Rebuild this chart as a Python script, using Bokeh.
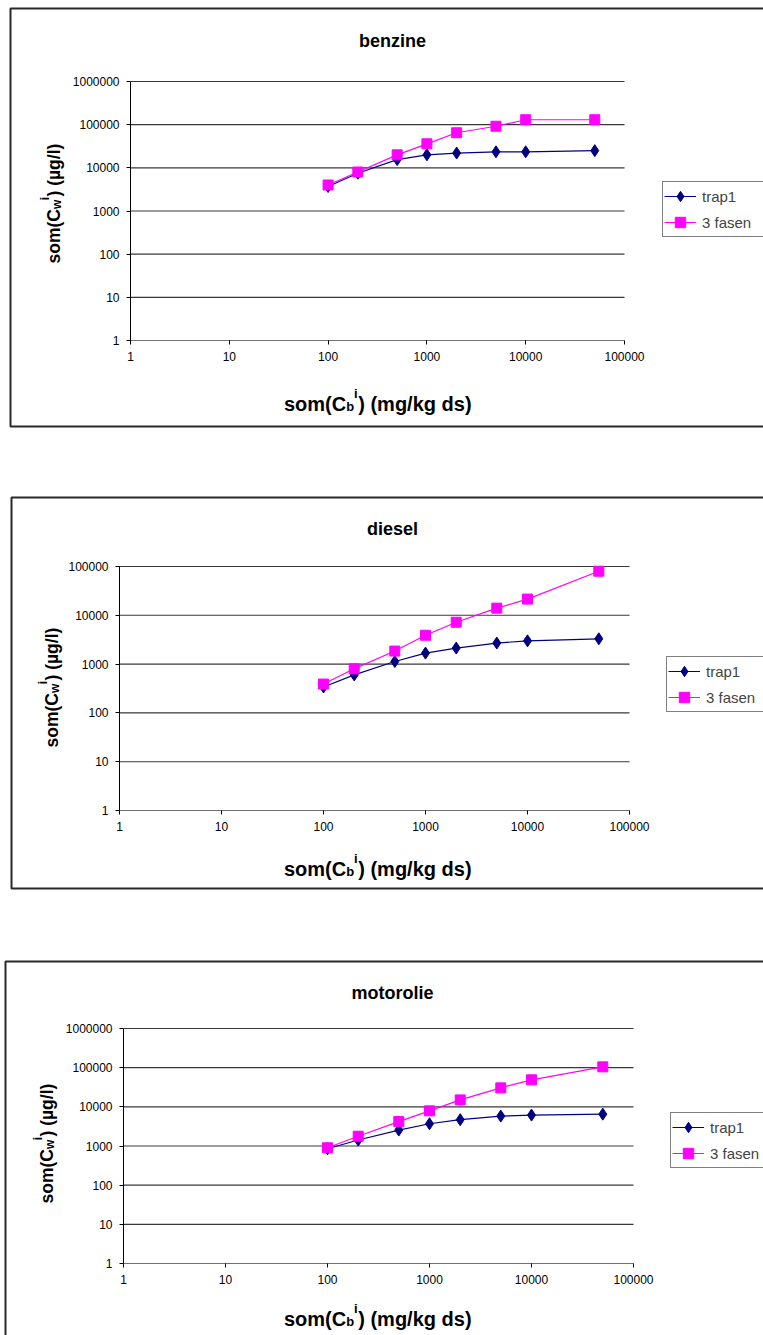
from bokeh.plotting import figure
from bokeh.models import (FixedTicker, NumeralTickFormatter, Label, BoxAnnotation,
                          Legend, LegendItem, Range1d)
from bokeh.layouts import column
from bokeh.embed import file_html
from bokeh.resources import INLINE
import math

# ---------------- data ----------------
x_conc = [100, 200, 500, 1000, 2000, 5000, 10000, 50000]

benzine_trap1 = [3700, 7500, 15500, 20000, 22000, 23500, 23500, 25000]
benzine_3fasen = [4000, 8000, 20000, 36000, 65000, 92000, 130000, 130000]

diesel_trap1 = [340, 600, 1130, 1680, 2130, 2700, 3000, 3300]
diesel_3fasen = [390, 800, 1850, 3900, 7200, 14000, 21500, 80000]

motorolie_trap1 = [850, 1420, 2550, 3700, 4700, 5800, 6150, 6500]
motorolie_3fasen = [900, 1780, 4200, 7900, 15000, 30500, 49000, 105000]

x_ticks = [1, 10, 100, 1000, 10000, 100000]
y_ticks_6 = [1, 10, 100, 1000, 10000, 100000, 1000000]
y_ticks_5 = [1, 10, 100, 1000, 10000, 100000]

series_names = ["trap1", "3 fasen"]
titles = ["benzine", "diesel", "motorolie"]

FONT = "Liberation Sans"
W = 763
NAVY = "#000080"
MAGENTA = "#FF00FF"


def lab(p, H, cx, cy, text, size, bold=True, align="left",
        baseline="alphabetic", angle=0.0):
    p.add_layout(Label(x=cx, y=H - cy, x_units="screen", y_units="screen",
                       text=text, text_font=FONT, text_font_size=f"{size}px",
                       text_font_style="bold" if bold else "normal",
                       text_align=align, text_baseline=baseline, angle=angle,
                       text_color="#000000"))


def log_range(lo, hi, p_lo, p_hi, total):
    # range whose [lo, hi] decades land on pixels p_lo..p_hi of a full-canvas frame
    llo, lhi = math.log10(lo), math.log10(hi)
    per = (p_hi - p_lo) / (lhi - llo)
    start = llo - p_lo / per
    end = lhi + (total - p_hi) / per
    return Range1d(10 ** start, 10 ** end)


def make_chart(title, trap1, fasen, y_ticks, H, frame, border, title_base,
               xt_base, yt_center, yt_base, legend_box):
    fl, fr, ft, fb = frame
    xr = log_range(x_ticks[0], x_ticks[-1], fl, fr, W)
    yr = log_range(y_ticks[0], y_ticks[-1], H - fb, H - ft, H)
    p = figure(width=W, height=H, x_axis_type="log", y_axis_type="log",
               x_range=xr, y_range=yr,
               output_backend="svg", toolbar_location=None,
               min_border_left=0, min_border_right=0,
               min_border_top=0, min_border_bottom=0)
    p.title.visible = False
    p.outline_line_color = None
    p.background_fill_color = "white"
    p.border_fill_color = "white"
    p.xgrid.visible = False
    p.ygrid.visible = False

    for ax, ticks, loc in ((p.xaxis[0], x_ticks, y_ticks[0]),
                           (p.yaxis[0], y_ticks, x_ticks[0])):
        ax.fixed_location = loc
        ax.bounds = (ticks[0], ticks[-1])
        ax.ticker = FixedTicker(ticks=ticks)
        ax.formatter = NumeralTickFormatter(format="0")
        ax.minor_tick_line_color = None
        ax.major_tick_in = 0
        ax.major_tick_out = 4
        ax.major_tick_line_color = "#000000"
        ax.major_label_text_font = FONT
        ax.major_label_text_font_size = "12px"
        ax.major_label_text_color = "#000000"
    p.xaxis.axis_line_color = "#707070"
    p.yaxis.axis_line_color = "#000000"
    p.xaxis.major_label_standoff = 7
    p.yaxis.major_label_standoff = 7

    # horizontal grid lines at the decades (span of the x axis)
    gy = y_ticks[1:]
    p.segment(x0=[x_ticks[0]] * len(gy), x1=[x_ticks[-1]] * len(gy), y0=gy, y1=gy,
              line_color="#383838", line_width=1.1)

    bx0, by0, by1 = border
    p.add_layout(BoxAnnotation(left=bx0, right=W + 20, top=H - by0, bottom=H - by1,
                               left_units="screen", right_units="screen",
                               top_units="screen", bottom_units="screen",
                               fill_alpha=0, line_color="#282828", line_alpha=1,
                               line_width=2, level="underlay"))

    r1l = p.line(x_conc, trap1, line_color=NAVY, line_width=1.2)
    r1m = p.scatter(x_conc, trap1, marker="diamond", size=12, color=NAVY)
    r2l = p.line(x_conc, fasen, line_color=MAGENTA, line_width=1.2)
    r2m = p.scatter(x_conc, fasen, marker="square", size=10, color=MAGENTA)

    lx0, ly0, ly1 = legend_box
    leg = Legend(items=[LegendItem(label=series_names[0], renderers=[r1l, r1m]),
                        LegendItem(label=series_names[1], renderers=[r2l, r2m])],
                 location=(lx0, H - ly1),
                 label_text_font=FONT, label_text_font_size="15px",
                 label_standoff=6, glyph_width=32, glyph_height=26,
                 label_width=70, label_height=20,
                 spacing=0, padding=1, margin=0,
                 border_line_color="#000000", border_line_width=1,
                 background_fill_color="white", background_fill_alpha=1)
    p.add_layout(leg)

    # chart title
    lab(p, H, 392, title_base, title, 18, align="center")

    # x axis title: som(C_b^i) (mg/kg ds)
    s_main, s_small = 20, 13
    w1 = 3111 * s_main / 1000
    wb = 611 * s_small / 1000
    wi = 278 * s_small / 1000
    w2 = 5667 * s_main / 1000
    x0 = 377 - (w1 + wb + wi + w2) / 2
    lab(p, H, x0, xt_base, "som(C", s_main)
    lab(p, H, x0 + w1, xt_base + 3, "b", s_small)
    lab(p, H, x0 + w1 + wb, xt_base - 10, "i", s_small)
    lab(p, H, x0 + w1 + wb + wi + 0.5, xt_base, ") (mg/kg ds)", s_main)

    # y axis title (rotated): som(C_w^i) (µg/l)
    s_main, s_small = 17.5, 12
    w1 = 3111 * s_main / 1000
    ww = 722 * s_small / 1000
    wi = 278 * s_small / 1000
    w2 = 3055 * s_main / 1000
    y0 = yt_center + (w1 + ww + wi + w2) / 2
    ang = math.pi / 2
    lab(p, H, yt_base, y0, "som(C", s_main, angle=ang)
    lab(p, H, yt_base + 3, y0 - w1, "w", s_small, angle=ang)
    lab(p, H, yt_base - 9, y0 - w1 - ww, "i", s_small, angle=ang)
    lab(p, H, yt_base, y0 - w1 - ww - wi - 0.5, ") (µg/l)", s_main, angle=ang)
    return p


p1 = make_chart(titles[0], benzine_trap1, benzine_3fasen, y_ticks_6, 460,
                frame=(130, 624, 81, 340), border=(10, 8, 426), title_base=40,
                xt_base=403, yt_center=203, yt_base=53, legend_box=(662, 184, 237))
p2 = make_chart(titles[1], diesel_trap1, diesel_3fasen, y_ticks_5, 445,
                frame=(119, 629, 106, 350), border=(11, 37, 428), title_base=68,
                xt_base=408, yt_center=227, yt_base=51, legend_box=(666, 203, 252))
p3 = make_chart(titles[2], motorolie_trap1, motorolie_3fasen, y_ticks_6, 430,
                frame=(123, 633, 123, 358), border=(5, 56, 445), title_base=87,
                xt_base=413, yt_center=238, yt_base=46, legend_box=(670, 216, 263))

layout = column(p1, p2, p3, spacing=0)
open("out.html", "w").write(file_html(layout, INLINE))
